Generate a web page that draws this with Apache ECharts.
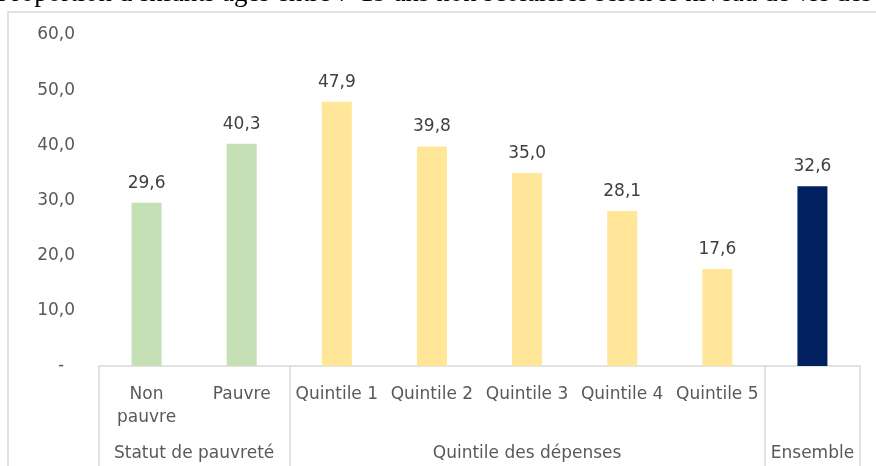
<!DOCTYPE html>
<html>
<head>
<meta charset="utf-8">
<script src="https://cdn.jsdelivr.net/npm/echarts@6/dist/echarts.min.js"></script>
<style>
  html, body { margin: 0; padding: 0; background: #fff; }
  #chart { width: 876px; height: 466px; }
</style>
</head>
<body>
<div id="chart"></div>
<script>
// données
const categories = ['Non\npauvre', 'Pauvre', 'Quintile 1', 'Quintile 2', 'Quintile 3', 'Quintile 4', 'Quintile 5', 'Ensemble']
const values = [29.6, 40.3, 47.9, 39.8, 35.0, 28.1, 17.6, 32.6]
const groupNames = ['Statut de pauvreté', 'Quintile des dépenses', 'Ensemble']
const groupBounds = [0, 2, 7, 8]
const yTicks = [0, 10, 20, 30, 40, 50, 60]
const titleText = "Proportion d'enfants âgés entre 7-19 ans non scolarisés selon le niveau de vie des"

const groupColors = ['#c5e0b4', '#ffe699', '#002060']
const font = 'DejaVu Sans'
const fmt = v => v.toFixed(1).replace('.', ',')

// centre de chaque groupe, sur l'axe 0..8
const groupCenters = groupNames.map((n, i) => (groupBounds[i] + groupBounds[i + 1]) / 2)

function groupOf(idx) {
  for (let g = 0; g < groupNames.length; g++) {
    if (idx >= groupBounds[g] && idx < groupBounds[g + 1]) return g
  }
  return 0
}

const barData = values.map((v, i) => ({
  value: v,
  itemStyle: { color: groupColors[groupOf(i)] }
}))

let myChart = echarts.init(document.getElementById('chart'))
myChart.setOption({
  animation: false,
  grid: { left: 99, right: 16, top: 35, bottom: 100 },
  graphic: [
    {
      type: 'rect',
      z: -10,
      shape: { x: 8, y: 12, width: 1000, height: 1000 },
      style: { fill: 'none', stroke: '#d9d9d9', lineWidth: 1.5 }
    },
    {
      // titre coupé en haut de l'image
      type: 'text',
      x: 872,
      y: 7,
      style: {
        text: titleText,
        font: '27px "Liberation Serif"',
        fill: '#000',
        align: 'right',
        verticalAlign: 'bottom'
      }
    }
  ],
  xAxis: [
    {
      type: 'category',
      data: categories,
      axisLine: { show: true, lineStyle: { color: '#d9d9d9', width: 1.5 } },
      axisTick: { show: false },
      axisLabel: {
        interval: 0,
        margin: 17,
        color: '#595959',
        fontSize: 17,
        fontFamily: font,
        lineHeight: 23,
        // un groupe d'une seule catégorie n'a que l'étiquette du groupe
        formatter: (v, i) => (groupBounds[groupOf(i) + 1] - groupBounds[groupOf(i)] === 1 ? '' : v)
      }
    },
    {
      // deuxième niveau : groupes
      type: 'value',
      position: 'bottom',
      min: 0,
      max: 8,
      axisLine: { show: false },
      splitLine: { show: false },
      axisTick: {
        show: true,
        customValues: groupBounds,
        length: 100,
        lineStyle: { color: '#d9d9d9', width: 1.5 }
      },
      axisLabel: {
        customValues: groupCenters,
        margin: 79,
        color: '#595959',
        fontSize: 17,
        fontFamily: font,
        formatter: v => groupNames[groupCenters.indexOf(v)] || ''
      }
    }
  ],
  yAxis: {
    type: 'value',
    min: yTicks[0],
    max: yTicks[yTicks.length - 1],
    interval: 10,
    axisLine: { show: false },
    axisTick: { show: false },
    splitLine: { show: false },
    axisLabel: {
      margin: 24,
      color: '#595959',
      fontSize: 17,
      fontFamily: font,
      formatter: v => (v === 0 ? '-  ' : fmt(v))
    }
  },
  series: [
    {
      type: 'bar',
      xAxisIndex: 0,
      data: barData,
      barWidth: 30,
      label: {
        show: true,
        position: 'top',
        distance: 11,
        color: '#404040',
        fontSize: 17,
        fontFamily: font,
        formatter: p => fmt(p.value)
      }
    }
  ]
})
</script>
</body>
</html>
